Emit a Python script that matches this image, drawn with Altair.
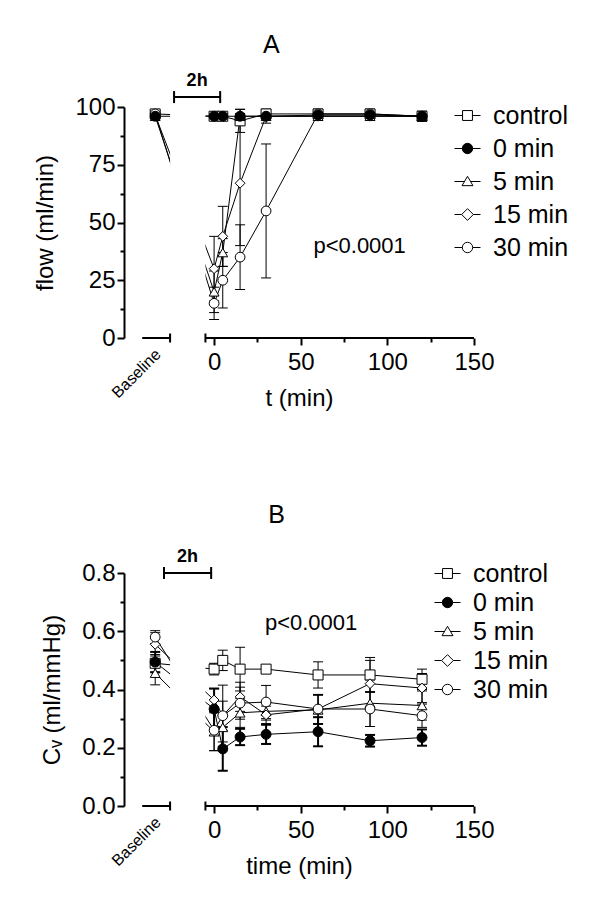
import altair as alt
import pandas as pd

FONT = "Liberation Sans"

# ---------------- data ----------------
series = ["control", "0 min", "5 min", "15 min", "30 min"]
draw_order = ["control", "5 min", "15 min", "30 min", "0 min"]
shapes = ["square", "circle", "triangle-up", "diamond", "circle"]
fills = ["white", "black", "white", "white", "white"]
strokes = ["black", "black", "black", "black", "black"]
sizes = [100, 95, 105, 130, 105]
legend_paths = [
    "M-1,0H-0.38M0.38,0H1M-0.38,-0.38H0.38V0.38H-0.38Z",
    "M-1,0H-0.4M0.4,0H1M0.4,0A0.4,0.4,0,1,1,-0.4,0A0.4,0.4,0,1,1,0.4,0Z",
    "M-1,0H-0.23M0.23,0H1M0,-0.4L0.42,0.32H-0.42Z",
    "M-1,0H-0.45M0.45,0H1M0,-0.45L0.45,0L0,0.45L-0.45,0Z",
    "M-1,0H-0.4M0.4,0H1M0.4,0A0.4,0.4,0,1,1,-0.4,0A0.4,0.4,0,1,1,0.4,0Z",
]

times = [0, 5, 15, 30, 60, 90, 120]
baseline_t = -34          # virtual x position of the "Baseline" column
x_domain = [-52, 150]
x_tick_values = [0, 25, 50, 75, 100, 125, 150]
axis_seg_start = [-41.5, -5]
axis_seg_end = [-25.4, 150]
gap = [-25.4, -5]

# Panel A : flow (ml/min)
flow_base = {"control": 97, "0 min": 96, "5 min": 96, "15 min": 96.5, "30 min": 97}
flow_base_sd = {"control": 1.5, "0 min": 1, "5 min": 1, "15 min": 1, "30 min": 1}
flow_mean = {
    "control": [96, 96, 94, 97, 97, 97, 96],
    "0 min": [96, 96, 96, 96, 96.5, 96.5, 96],
    "5 min": [20, 37, 96, 96, 96, 96, 96],
    "15 min": [30, 44, 67, 96, 96, 96, 96],
    "30 min": [15, 25, 35, 55, 97, 97, 96],
}
flow_sd = {
    "control": [1, 1, 5, 2, 2, 2, 2],
    "0 min": [1, 1, 1, 1, 1, 1, 2],
    "5 min": [9, 6, 3, 1, 1, 1, 2],
    "15 min": [14, 13, 27, 3, 1, 1, 2],
    "30 min": [7, 12, 14, 29, 2, 2, 2],
}

# Panel B : Cv (ml/mmHg)
cv_base = {"control": 0.49, "0 min": 0.494, "5 min": 0.456, "15 min": 0.555, "30 min": 0.58}
cv_base_sd = {"control": 0.03, "0 min": 0.035, "5 min": 0.04, "15 min": 0.04, "30 min": 0.022}
cv_mean = {
    "control": [0.47, 0.50, 0.47, 0.47, 0.45, 0.45, 0.435],
    "0 min": [0.333, 0.196, 0.237, 0.246, 0.255, 0.224, 0.235],
    "5 min": [0.255, 0.27, 0.32, 0.325, 0.33, 0.353, 0.345],
    "15 min": [0.364, 0.31, 0.375, 0.313, 0.333, 0.42, 0.405],
    "30 min": [0.26, 0.31, 0.353, 0.357, 0.333, 0.333, 0.31],
}
cv_sd = {
    "control": [0.02, 0.035, 0.075, 0.01, 0.045, 0.06, 0.035],
    "0 min": [0.07, 0.075, 0.028, 0.033, 0.05, 0.02, 0.028],
    "5 min": [0.065, 0.05, 0.05, 0.03, 0.05, 0.08, 0.05],
    "15 min": [0.04, 0.05, 0.05, 0.03, 0.05, 0.08, 0.05],
    "30 min": [0.07, 0.105, 0.055, 0.057, 0.05, 0.06, 0.04],
}


def build_df(base, base_sd, mean, sd):
    rows = []
    for s in draw_order:
        rows.append(dict(series=s, t=baseline_t, v=base[s],
                         lo=base[s] - base_sd[s], hi=base[s] + base_sd[s]))
        for t, m, e in zip(times, mean[s], sd[s]):
            rows.append(dict(series=s, t=t, v=m, lo=m - e, hi=m + e))
    return pd.DataFrame(rows)


def panel(df, ydom, height, yvals, ylabel_expr, ytick_test, ytitle, xtitle,
          bracket, ptext, letter, legend_xy, row_pad):
    xs = alt.Scale(domain=x_domain, nice=False, zero=False)
    ys = alt.Scale(domain=ydom, nice=False, zero=False)
    xaxis = alt.Axis(values=x_tick_values,
                     labelExpr="datum.value % 50 == 0 ? datum.label : ''",
                     tickSize={"condition": {"test": "datum.value % 50 == 0", "value": 7}, "value": 4},
                     domain=False, title=xtitle, labelFlush=False, grid=False,
                     labelPadding=5, titlePadding=12)
    yaxis = alt.Axis(values=yvals, labelExpr=ylabel_expr,
                     tickSize={"condition": {"test": ytick_test, "value": 7}, "value": 4},
                     title=ytitle, labelPadding=2, titlePadding=17, grid=False,
                     labelFlush=False)

    def X(f="t"):
        return alt.X(f"{f}:Q", scale=xs, axis=xaxis)

    def Y(f="v"):
        return alt.Y(f"{f}:Q", scale=ys, axis=yaxis)

    lines = alt.Chart(df).mark_line(color="black", strokeWidth=1).encode(
        x=X(), y=Y(), detail="series:N", order="t:Q")

    gap_df = pd.DataFrame({"t": [gap[0]], "t2": [gap[1]], "v": [ydom[0]], "v2": [ydom[1]]})
    gap_rect = alt.Chart(gap_df).mark_rect(fill="white").encode(
        x=X(), x2="t2:Q", y=Y(), y2="v2:Q")

    seg_df = pd.DataFrame({"t": axis_seg_start, "t2": axis_seg_end, "v": [ydom[0]] * 2})
    segs = alt.Chart(seg_df).mark_rule(color="black", strokeWidth=2).encode(
        x=X(), x2="t2:Q", y=Y())
    end_df = pd.DataFrame({"t": [axis_seg_end[0], axis_seg_start[1]], "v": [ydom[0]] * 2})
    ends = alt.Chart(end_df).mark_tick(orient="vertical", size=9, thickness=2,
                                       color="black", opacity=1).encode(x=X(), y=Y())

    err = alt.Chart(df).mark_rule(color="black").encode(
        x=X(), y=Y("lo"), y2="hi:Q",
        strokeWidth=alt.condition("datum.series == '0 min'", alt.value(2), alt.value(1)))
    caps = alt.Chart(df).transform_filter("datum.series != '0 min'").transform_fold(
        ["lo", "hi"], as_=["k", "e"]).mark_tick(
        orient="horizontal", size=10, thickness=1, color="black", opacity=1).encode(
        x=X(), y=Y("e"))
    caps0 = alt.Chart(df).transform_filter("datum.series == '0 min'").transform_fold(
        ["lo", "hi"], as_=["k", "e"]).mark_tick(
        orient="horizontal", size=10, thickness=2, color="black", opacity=1).encode(
        x=X(), y=Y("e"))

    pts = alt.Chart(df).mark_point(filled=True, stroke="black", strokeWidth=1, opacity=1).encode(
        x=X(), y=Y(),
        shape=alt.Shape("series:N", scale=alt.Scale(domain=series, range=shapes), legend=None),
        fill=alt.Fill("series:N", scale=alt.Scale(domain=series, range=fills), legend=None),
        size=alt.Size("series:N", scale=alt.Scale(domain=series, range=sizes), legend=None),
    )

    leg = alt.Legend(orient="none", legendX=legend_xy[0], legendY=legend_xy[1], title=None,
                     labelFontSize=25, labelFont=FONT, labelColor="black",
                     symbolSize=676, symbolStrokeWidth=1, symbolStrokeColor="black",
                     labelOffset=12, rowPadding=row_pad, padding=0)
    leg_df = pd.DataFrame({"series": series})
    legend_layer = alt.Chart(leg_df).transform_filter("false").mark_point(
        filled=True, strokeWidth=1, opacity=1).encode(
        x=alt.value(0), y=alt.value(0),
        shape=alt.Shape("series:N", scale=alt.Scale(domain=series, range=legend_paths), legend=leg),
        fill=alt.Fill("series:N", scale=alt.Scale(domain=series, range=fills), legend=leg),
        stroke=alt.Stroke("series:N", scale=alt.Scale(domain=series, range=strokes), legend=leg),
    )

    b0, b1, bv = bracket
    br_df = pd.DataFrame({"t": [b0], "t2": [b1], "v": [bv]})
    br = alt.Chart(br_df).mark_rule(color="black", strokeWidth=2).encode(x=X(), x2="t2:Q", y=Y())
    brt_df = pd.DataFrame({"t": [b0, b1], "v": [bv, bv]})
    brt = alt.Chart(brt_df).mark_tick(orient="vertical", size=12, thickness=2,
                                      color="black", opacity=1).encode(x=X(), y=Y())
    txt2h_df = pd.DataFrame({"t": [(b0 + b1) / 2], "v": [bv], "label": ["2h"]})
    txt2h = alt.Chart(txt2h_df).mark_text(fontSize=18, fontWeight="bold", dy=-16,
                                          baseline="middle", color="black").encode(
        x=X(), y=Y(), text="label:N")

    base_df = pd.DataFrame({"t": [baseline_t], "v": [ydom[0]], "label": ["Baseline"]})
    base_txt = alt.Chart(base_df).mark_text(fontSize=16, angle=315, align="right",
                                            baseline="middle", dx=-7.8, dy=12,
                                            color="black").encode(x=X(), y=Y(), text="label:N")

    ann_df = pd.DataFrame({"t": [ptext[0], letter[0]], "v": [ptext[1], letter[1]],
                           "label": ["p<0.0001", letter[2]], "fs": [22, 25]})
    ann = alt.Chart(ann_df).mark_text(baseline="middle", color="black").encode(
        x=X(), y=Y(), text="label:N", size=alt.Size("fs:Q", scale=None, legend=None))

    return alt.layer(lines, gap_rect, segs, ends, err, caps, caps0, pts, legend_layer,
                     br, brt, txt2h, base_txt, ann).resolve_scale(
        shape="independent", fill="independent", size="independent", stroke="independent"
    ).properties(width=350, height=height)


dfA = build_df(flow_base, flow_base_sd, flow_mean, flow_sd)
dfB = build_df(cv_base, cv_base_sd, cv_mean, cv_sd)

panelA = panel(dfA, [0, 100], 231, [0, 12.5, 25, 37.5, 50, 62.5, 75, 87.5, 100],
               "datum.value % 25 == 0 ? datum.label : ''", "datum.value % 25 == 0",
               "flow (ml/min)", "t (min)",
               bracket=(-23.1, 3.5, 104.3), ptext=(84, 40), letter=(33, 127, "A"),
               legend_xy=(330, -5), row_pad=6)

panelB = panel(dfB, [0, 0.8], 233, [0, 0.1, 0.2, 0.3, 0.4, 0.5, 0.6, 0.7, 0.8],
               "abs(round(datum.value * 10)) % 2 == 0 ? format(datum.value, '.1f') : ''",
               "abs(round(datum.value * 10)) % 2 == 0",
               "C\u1d65 (ml/mmHg)", "time (min)",
               bracket=(-28.9, -1.7, 0.8), ptext=(56, 0.628), letter=(36, 1.0, "B"),
               legend_xy=(310, -13), row_pad=2)

chart = alt.vconcat(panelA, panelB, spacing=235, bounds="flush").resolve_scale(
    shape="independent", fill="independent", size="independent", stroke="independent"
).properties(
    padding={"left": 25, "top": 24, "right": 5, "bottom": 5}
).configure_view(stroke=None).configure_axis(
    labelFont=FONT, titleFont=FONT, labelFontSize=24, titleFontSize=24,
    titleFontWeight="normal", domainColor="black", tickColor="black",
    labelColor="black", titleColor="black", domainWidth=2, tickWidth=2
).configure_text(font=FONT).configure_legend(labelFont=FONT)

chart.save("out.html", embed_options={"renderer": "svg", "actions": False})
